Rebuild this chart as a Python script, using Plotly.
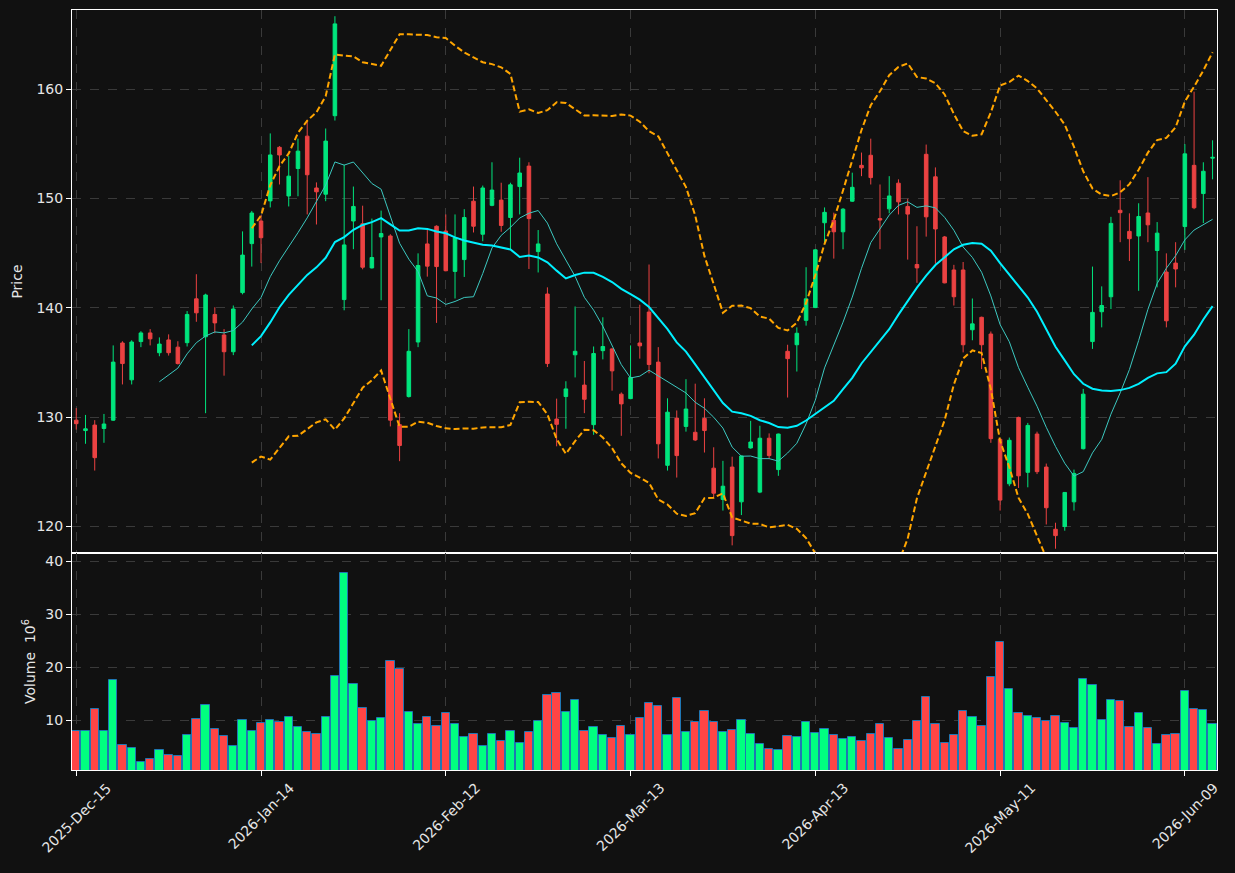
import numpy as np
import pandas as pd
import plotly.graph_objects as go

# ---------------- data ----------------
holidays = ["2025-12-25", "2026-01-01", "2026-01-19", "2026-02-16", "2026-04-03", "2026-05-25"]
dates = pd.bdate_range(start="2025-12-15", periods=124, freq="C", holidays=holidays)
date_labels = [d.strftime("%Y-%b-%d") for d in dates]

opens = [129.73, 128.78, 129.28, 128.97, 129.73, 136.79, 133.42, 136.92, 137.71, 135.90,
         137.07, 136.41, 136.82, 140.83, 137.36, 139.40, 137.52, 135.99, 141.40, 145.88,
         147.95, 149.79, 154.69, 150.24, 152.75, 155.71, 150.97, 150.40, 157.58, 140.76,
         147.95, 147.69, 143.66, 146.49, 146.58, 129.32, 131.89, 136.88, 145.85, 147.47,
         147.03, 143.34, 144.42, 149.76, 146.74, 149.38, 149.86, 148.27, 151.10, 152.97,
         145.15, 141.27, 129.83, 131.89, 135.71, 132.94, 129.32, 136.09, 136.25, 132.11,
         131.70, 136.79, 139.62, 135.04, 125.60, 129.92, 129.16, 128.62, 129.89, 125.34,
         122.48, 125.44, 122.26, 127.19, 123.15, 128.08, 125.21, 136.03, 136.63, 138.86,
         140.03, 147.79, 148.01, 146.96, 149.76, 153.04, 153.96, 148.17, 149.06, 151.41,
         149.28, 143.97, 154.05, 151.99, 146.49, 143.47, 143.47, 138.00, 139.14, 137.61,
         127.98, 123.91, 129.98, 124.96, 128.46, 125.44, 119.75, 120.00, 122.26, 127.12,
         136.92, 139.65, 141.02, 148.93, 147.00, 146.58, 148.68, 145.25, 143.28, 144.10,
         147.44, 153.04, 150.46, 153.70]
highs = [130.84, 130.21, 129.73, 130.30, 136.57, 136.95, 137.04, 137.87, 138.06, 137.30,
         137.58, 136.95, 139.71, 143.08, 141.30, 140.06, 138.06, 140.22, 147.00, 148.87,
         148.49, 155.96, 154.80, 153.90, 155.48, 157.20, 151.48, 156.41, 166.68, 153.10,
         151.10, 149.35, 148.17, 148.90, 146.74, 130.37, 138.06, 144.99, 147.12, 147.55,
         148.55, 148.55, 149.03, 151.10, 151.19, 153.32, 151.45, 151.45, 153.74, 153.32,
         147.12, 141.88, 131.70, 133.29, 140.13, 135.14, 136.47, 139.14, 136.30, 132.27,
         136.57, 140.29, 143.97, 136.41, 131.73, 130.62, 133.48, 133.07, 131.73, 127.25,
         126.01, 126.39, 126.50, 129.67, 129.22, 128.52, 128.50, 136.63, 138.22, 143.72,
         145.35, 149.19, 148.71, 149.13, 152.37, 154.21, 155.48, 151.29, 152.05, 151.76,
         149.98, 147.47, 154.94, 152.85, 146.58, 143.94, 144.20, 140.86, 139.20, 137.84,
         128.05, 128.14, 130.05, 129.48, 128.68, 125.76, 120.35, 123.15, 125.21, 132.59,
         143.78, 141.97, 148.33, 151.67, 148.65, 149.57, 151.96, 147.85, 144.99, 146.01,
         154.98, 159.78, 153.32, 155.33]
lows = [128.87, 127.57, 125.12, 127.66, 129.67, 133.00, 133.00, 136.41, 136.57, 135.58,
        135.64, 134.82, 136.47, 138.73, 130.37, 137.68, 133.80, 135.68, 141.24, 143.78,
        144.10, 149.19, 151.29, 149.28, 150.21, 148.55, 147.63, 149.76, 157.14, 139.78,
        145.37, 143.53, 143.60, 140.70, 129.16, 125.98, 131.80, 136.41, 142.86, 138.63,
        143.35, 140.86, 142.83, 146.90, 146.10, 149.30, 146.96, 145.37, 148.55, 143.56,
        143.24, 134.59, 127.34, 128.94, 133.64, 130.37, 128.39, 135.29, 132.43, 128.30,
        131.65, 135.36, 134.02, 126.23, 125.12, 124.48, 128.68, 127.82, 126.77, 122.67,
        121.46, 118.28, 121.05, 127.12, 123.05, 126.17, 124.64, 131.80, 134.18, 138.38,
        139.98, 145.88, 144.51, 145.37, 149.70, 152.05, 151.29, 145.37, 148.65, 148.55,
        144.42, 142.29, 146.52, 144.04, 142.25, 140.22, 135.93, 137.04, 134.40, 127.66,
        121.46, 123.69, 123.53, 123.59, 124.80, 120.19, 117.97, 119.62, 121.46, 127.05,
        136.25, 138.22, 139.90, 146.01, 144.29, 141.56, 146.01, 141.88, 138.22, 141.88,
        145.31, 149.03, 147.76, 151.76]
closes = [129.41, 128.94, 126.30, 129.38, 135.04, 134.91, 136.88, 137.71, 137.17, 136.69,
          135.90, 134.91, 139.40, 139.55, 141.18, 138.63, 135.99, 139.90, 144.83, 148.68,
          146.42, 153.99, 153.99, 152.05, 154.34, 152.18, 150.62, 155.26, 165.98, 145.76,
          149.28, 143.72, 144.61, 146.80, 129.73, 127.41, 136.03, 143.88, 143.82, 143.78,
          143.40, 146.42, 148.27, 147.47, 150.97, 150.78, 147.54, 151.26, 152.34, 148.17,
          145.85, 134.91, 129.35, 132.59, 136.03, 131.64, 135.83, 136.47, 134.24, 131.22,
          133.64, 136.53, 134.82, 127.57, 130.46, 126.49, 130.75, 127.92, 128.78, 123.05,
          123.69, 119.17, 126.45, 127.73, 128.08, 126.49, 128.46, 135.36, 137.68, 140.83,
          145.31, 148.74, 146.96, 149.03, 151.03, 152.81, 151.92, 148.04, 150.24, 149.70,
          148.58, 143.66, 148.33, 147.22, 142.29, 141.02, 136.63, 138.54, 136.63, 128.04,
          122.42, 127.89, 124.64, 129.25, 125.02, 121.72, 119.17, 123.12, 124.86, 132.11,
          139.59, 140.22, 147.73, 148.71, 146.33, 148.36, 147.60, 146.84, 138.82, 143.56,
          154.09, 149.16, 152.50, 153.77]
volumes_m = [7.92, 7.92, 12.08, 7.92, 17.55, 5.28, 4.72, 2.08, 2.64, 4.34,
             3.40, 3.21, 7.17, 10.19, 12.83, 8.30, 6.98, 5.09, 10.00, 7.92,
             9.43, 10.00, 9.62, 10.57, 8.68, 7.74, 7.36, 10.57, 18.30, 37.74,
             16.79, 12.26, 9.81, 10.38, 21.13, 19.62, 11.51, 9.25, 10.57, 8.87,
             11.32, 9.25, 6.79, 7.36, 5.09, 7.36, 6.04, 7.92, 5.66, 7.74,
             9.81, 14.72, 15.09, 11.51, 13.77, 7.92, 8.68, 7.17, 6.60, 8.87,
             7.17, 10.38, 13.21, 12.64, 7.17, 14.15, 7.74, 9.62, 11.70, 9.62,
             7.74, 8.11, 10.00, 7.36, 5.47, 4.53, 4.34, 6.98, 6.79, 9.62,
             7.55, 8.30, 7.17, 6.42, 6.79, 6.04, 7.36, 9.25, 6.60, 4.53,
             6.23, 9.81, 14.34, 9.25, 5.66, 7.17, 11.70, 10.57, 8.87, 18.11,
             24.72, 15.85, 11.32, 10.75, 10.38, 9.81, 10.75, 9.43, 8.49, 17.74,
             16.60, 10.00, 13.77, 13.58, 8.68, 11.32, 8.49, 5.47, 7.17, 7.36,
             15.47, 12.08, 11.89, 9.25]
tick_every = 20

# ---------------- derived ----------------
n = len(closes)
xs = list(range(n))
cs = pd.Series(closes)
ma10 = cs.rolling(10).mean()
ma20 = cs.rolling(20).mean()
sd20 = cs.rolling(20).std()
bb_up = ma20 + 2 * sd20
bb_lo = ma20 - 2 * sd20

def nn(s):
    return [None if pd.isna(v) else float(v) for v in s]

UP_C, DN_C = "#00e57d", "#eb4242"
VUP_C, VDN_C = "#00ff80", "#ff4545"
vol_colors = [VUP_C if c >= o else VDN_C for o, c in zip(opens, closes)]

tickvals = list(range(0, n, tick_every))
ticktext = [date_labels[i] for i in tickvals]

BG = "#111111"
GRID = "#3a3a3a"
TXT = "#e6e6e6"
FONT = "DejaVu Sans"

fig = go.Figure()
fig.add_trace(go.Candlestick(
    x=xs, open=opens, high=highs, low=lows, close=closes,
    increasing=dict(line=dict(color=UP_C, width=1), fillcolor=UP_C),
    decreasing=dict(line=dict(color=DN_C, width=1), fillcolor=DN_C),
    whiskerwidth=0, hovertext=date_labels, name="OHLC", showlegend=False,
    xaxis="x", yaxis="y"))
fig.add_trace(go.Scatter(x=xs, y=nn(ma10), mode="lines", line=dict(color="#3cc8c0", width=1),
                         showlegend=False, xaxis="x", yaxis="y", hoverinfo="skip"))
fig.add_trace(go.Scatter(x=xs, y=nn(ma20), mode="lines", line=dict(color="#00f0ff", width=2),
                         showlegend=False, xaxis="x", yaxis="y", hoverinfo="skip"))
for band in (bb_up, bb_lo):
    fig.add_trace(go.Scatter(x=xs, y=nn(band), mode="lines",
                             line=dict(color="#ffa500", width=2, dash="6px,3px"),
                             showlegend=False, xaxis="x", yaxis="y", hoverinfo="skip"))
fig.add_trace(go.Bar(x=xs, y=volumes_m, marker=dict(color=vol_colors, line=dict(color="#1f77b4", width=1)),
                     width=0.9, showlegend=False, xaxis="x2", yaxis="y2", hovertext=date_labels,
                     hoverinfo="text+y"))

xr = [-0.46, n - 1 + 0.48]
vol_range = [0.3 * min(volumes_m), 1.1 * max(volumes_m)]
split = 217 / 760

axis_common = dict(showline=True, mirror=True, linecolor="white", linewidth=1,
                   showgrid=True, gridcolor=GRID, griddash="dash", gridwidth=1,
                   zeroline=False, tickfont=dict(color=TXT, size=14, family=FONT))

# rotated date labels centred under their ticks (matplotlib-style)
annotations = [dict(x=tv, y=0, xref="x2", yref="paper", text=tt, showarrow=False,
                    textangle=-45, xanchor="center", yanchor="top", yshift=-7,
                    font=dict(family=FONT, size=14, color=TXT))
               for tv, tt in zip(tickvals, ticktext)]

fig.update_layout(
    width=1235, height=873,
    paper_bgcolor=BG, plot_bgcolor=BG,
    margin=dict(l=72, r=18, t=10, b=103),
    font=dict(family=FONT, color=TXT, size=14),
    boxgap=0.45, bargap=0,
    annotations=annotations,
    xaxis=dict(domain=[0, 1], anchor="y", range=xr, tickvals=tickvals, showticklabels=False,
               ticks="", rangeslider=dict(visible=False), matches="x2", **axis_common),
    yaxis=dict(domain=[split, 1], anchor="x", range=[117.58, 167.25],
               tickvals=[120, 130, 140, 150, 160], ticks="outside", ticklen=5, tickcolor="white",
               title=dict(text="Price", font=dict(size=14, color=TXT), standoff=10), **axis_common),
    xaxis2=dict(domain=[0, 1], anchor="y2", range=xr, tickvals=tickvals, showticklabels=False,
                ticks="outside", ticklen=5, tickcolor="white", **axis_common),
    yaxis2=dict(domain=[0, split], anchor="x2", range=vol_range,
                tickvals=[10, 20, 30, 40], ticks="outside", ticklen=5, tickcolor="white",
                title=dict(text="Volume  10<sup>6</sup>", font=dict(size=14, color=TXT), standoff=6),
                **axis_common),
)

fig.write_html("out.html")
